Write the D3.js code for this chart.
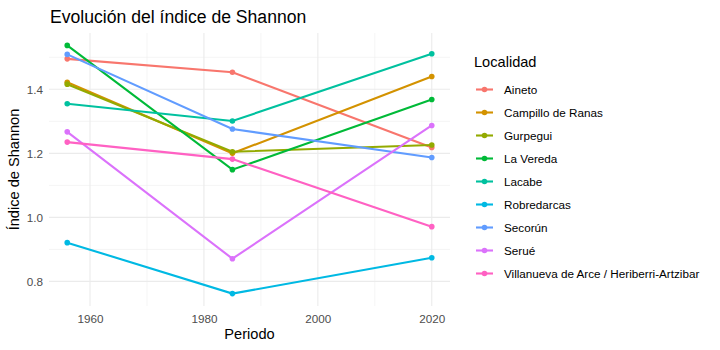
<!DOCTYPE html>
<html>
<head>
<meta charset="utf-8">
<script src="https://cdn.jsdelivr.net/npm/d3@7"></script>
<style>
  body { margin: 0; background: #fff; }
  text { font-family: "Liberation Sans", Arial, sans-serif; }
</style>
</head>
<body>
<div id="chart"></div>
<script>
// data
var periods = [1956, 1985, 2020];
var localidades = ["Aineto", "Campillo de Ranas", "Gurpegui", "La Vereda", "Lacabe",
    "Robredarcas", "Secorún", "Serué", "Villanueva de Arce / Heriberri-Artzibar"];
var aineto = [1.495, 1.453, 1.218];
var campillo = [1.422, 1.200, 1.440];
var gurpegui = [1.416, 1.205, 1.226];
var laVereda = [1.537, 1.149, 1.368];
var lacabe = [1.355, 1.301, 1.511];
var robredarcas = [0.921, 0.762, 0.874];
var secorun = [1.509, 1.276, 1.187];
var serue = [1.267, 0.871, 1.287];
var villanueva = [1.235, 1.182, 0.971];
var colors = ["#F8766D", "#D39200", "#93AA00", "#00BA38", "#00C19F", "#00B9E3", "#619CFF", "#DB72FB", "#FF61C3"];
var xTicks = [1960, 1980, 2000, 2020];
var yTicks = [0.8, 1.0, 1.2, 1.4];

var allValues = [aineto, campillo, gurpegui, laVereda, lacabe, robredarcas, secorun, serue, villanueva];

var series = localidades.map(function (name, i) {
    return {
        name: name,
        color: colors[i],
        points: periods.map(function (p, j) { return {x: p, y: allValues[i][j]}; })
    };
});

var svg = d3.select("#chart").append("svg")
    .attr("width", 720)
    .attr("height", 350);

var margin = {top: 33, right: 270, bottom: 44, left: 49},
    width = 720 - margin.left - margin.right,
    height = 350 - margin.top - margin.bottom;

var g = svg.append("g").attr("transform", "translate(" + margin.left + "," + margin.top + ")");

// ggplot style 5% expansion
var xExt = d3.extent(periods), xPad = (xExt[1] - xExt[0]) * 0.05;
var flat = [].concat.apply([], allValues);
var yExt = d3.extent(flat), yPad = (yExt[1] - yExt[0]) * 0.05;

var x = d3.scaleLinear().domain([xExt[0] - xPad, xExt[1] + xPad]).range([0, width]);
var y = d3.scaleLinear().domain([yExt[0] - yPad, yExt[1] + yPad]).range([height, 0]);

// minor grid
var xMinor = [1950, 1970, 1990, 2010].filter(function (v) { return v >= x.domain()[0]; });
var yMinor = [0.7, 0.9, 1.1, 1.3, 1.5].filter(function (v) { return v >= y.domain()[0] && v <= y.domain()[1]; });

g.selectAll(".minor-x").data(xMinor).enter().append("line")
    .attr("x1", function (d) { return x(d); }).attr("x2", function (d) { return x(d); })
    .attr("y1", 0).attr("y2", height)
    .attr("stroke", "#ebebeb").attr("stroke-width", 0.55);
g.selectAll(".minor-y").data(yMinor).enter().append("line")
    .attr("y1", function (d) { return y(d); }).attr("y2", function (d) { return y(d); })
    .attr("x1", 0).attr("x2", width)
    .attr("stroke", "#ebebeb").attr("stroke-width", 0.55);

// major grid
g.selectAll(".major-x").data(xTicks).enter().append("line")
    .attr("x1", function (d) { return x(d); }).attr("x2", function (d) { return x(d); })
    .attr("y1", 0).attr("y2", height)
    .attr("stroke", "#ebebeb").attr("stroke-width", 1.1);
g.selectAll(".major-y").data(yTicks).enter().append("line")
    .attr("y1", function (d) { return y(d); }).attr("y2", function (d) { return y(d); })
    .attr("x1", 0).attr("x2", width)
    .attr("stroke", "#ebebeb").attr("stroke-width", 1.1);

// axes (labels only, theme_minimal has no axis lines)
var xAxis = g.append("g")
    .attr("transform", "translate(0," + height + ")")
    .call(d3.axisBottom(x).tickValues(xTicks).tickFormat(d3.format("d")).tickSize(0).tickPadding(9));
var yAxis = g.append("g")
    .call(d3.axisLeft(y).tickValues(yTicks).tickFormat(d3.format(".1f")).tickSize(0).tickPadding(6));
[xAxis, yAxis].forEach(function (a) {
    a.select(".domain").remove();
    a.selectAll("text")
        .attr("fill", "#4d4d4d")
        .style("font-size", "11.7px")
        .style("font-family", "'Liberation Sans', Arial, sans-serif");
});

// define the line
var valueline = d3.line()
    .x(function (d) { return x(d.x); })
    .y(function (d) { return y(d.y); });

g.selectAll(".series-line").data(series).enter().append("path")
    .attr("class", "series-line")
    .attr("d", function (d) { return valueline(d.points); })
    .attr("fill", "none")
    .attr("stroke", function (d) { return d.color; })
    .attr("stroke-width", 2.1);

series.forEach(function (s) {
    g.selectAll(null).data(s.points).enter().append("circle")
        .attr("cx", function (d) { return x(d.x); })
        .attr("cy", function (d) { return y(d.y); })
        .attr("r", 2.8)
        .attr("fill", s.color);
});

// titles
svg.append("text")
    .attr("x", 50).attr("y", 23)
    .style("font-size", "17.6px")
    .attr("fill", "#000")
    .text("Evolución del índice de Shannon");

svg.append("text")
    .attr("x", margin.left + width / 2).attr("y", 339)
    .attr("text-anchor", "middle")
    .style("font-size", "14.6px")
    .text("Periodo");

svg.append("text")
    .attr("transform", "translate(19," + (margin.top + height / 2) + ") rotate(-90)")
    .attr("text-anchor", "middle")
    .style("font-size", "14.6px")
    .text("Índice de Shannon");

// legend
var legend = svg.append("g").attr("transform", "translate(474,0)");
legend.append("text")
    .attr("x", 0).attr("y", 67)
    .style("font-size", "14.6px")
    .text("Localidad");

var items = legend.selectAll(".item").data(series).enter().append("g")
    .attr("transform", function (d, i) { return "translate(0," + (89.5 + i * 23) + ")"; });
items.append("line")
    .attr("x1", 2).attr("x2", 19).attr("y1", 0).attr("y2", 0)
    .attr("stroke", function (d) { return d.color; })
    .attr("stroke-width", 2.1);
items.append("circle")
    .attr("cx", 10.5).attr("cy", 0).attr("r", 2.8)
    .attr("fill", function (d) { return d.color; });
items.append("text")
    .attr("x", 30).attr("y", 0).attr("dy", "0.35em")
    .style("font-size", "11.7px")
    .text(function (d) { return d.name; });
</script>
</body>
</html>
